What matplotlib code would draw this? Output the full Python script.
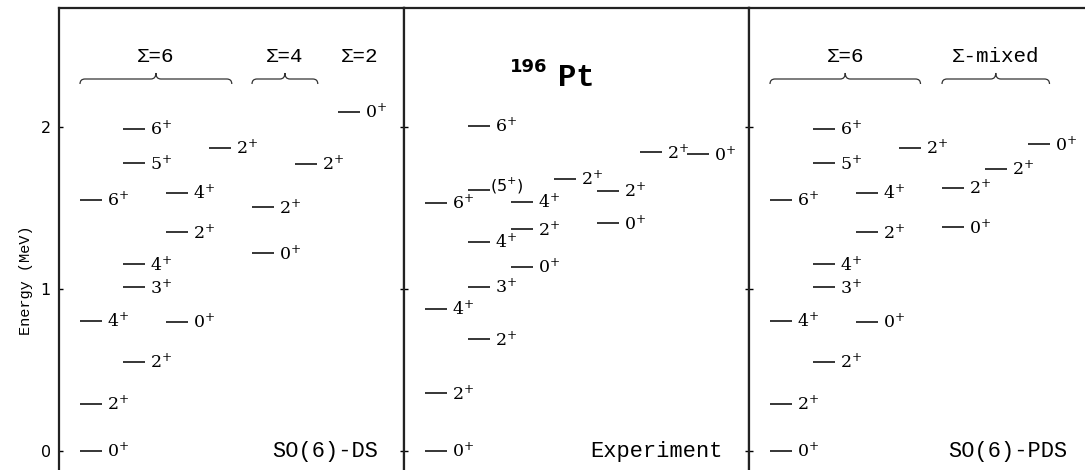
import matplotlib
matplotlib.use("Agg")
import matplotlib.pyplot as plt
from matplotlib.path import Path
from matplotlib.patches import PathPatch
import matplotlib.transforms as mtransforms

plt.rcParams["mathtext.fontset"] = "dejavuserif"

# ---------------- data ----------------
# SO(6) dynamical symmetry (theory)
ds_cols = [0, 0, 0, 0, 1, 1, 1, 1, 1, 2, 2, 2, 3, 4, 4, 5, 6]
ds_energy = [0.0, 0.288, 0.802, 1.548, 0.549, 1.009, 1.151, 1.774, 1.986,
             0.796, 1.348, 1.593, 1.870, 1.218, 1.502, 1.770, 2.093]
ds_spin = ["0", "2", "4", "6", "2", "3", "4", "5", "6",
           "0", "2", "4", "2", "0", "2", "2", "0"]

# Experiment 196Pt
exp_cols = [0, 0, 0, 0, 1, 1, 1, 1, 1, 2, 2, 2, 3, 4, 4, 5, 6.1]
exp_energy = [0.0, 0.354, 0.875, 1.531, 0.688, 1.012, 1.290, 1.609, 2.006,
              1.136, 1.366, 1.537, 1.677, 1.404, 1.603, 1.842, 1.830]
exp_spin = ["0", "2", "4", "6", "2", "3", "4", "(5)", "6",
            "0", "2", "4", "2", "0", "2", "2", "0"]

# SO(6) partial dynamical symmetry (theory)
pds_cols = [0, 0, 0, 0, 1, 1, 1, 1, 1, 2, 2, 2, 3, 4, 4, 5, 6]
pds_energy = [0.0, 0.288, 0.802, 1.548, 0.549, 1.009, 1.151, 1.774, 1.986,
              0.796, 1.348, 1.593, 1.870, 1.379, 1.623, 1.739, 1.891]
pds_spin = ["0", "2", "4", "6", "2", "3", "4", "5", "6",
            "0", "2", "4", "2", "0", "2", "2", "0"]

panel_names = ["SO(6)-DS", "Experiment", "SO(6)-PDS"]
ds_groups = [("Σ=6", 0.0, 3.53), ("Σ=4", 4.0, 5.53), ("Σ=2", 6.5, None)]
exp_groups = []
pds_groups = [("Σ=6", 0.0, 3.5), ("Σ-mixed", 4.0, 6.5)]
y_ticks = [0, 1, 2]
y_label = "Energy (MeV)"

# ---------------- layout ----------------
W, H = 1085, 470
fig = plt.figure(figsize=(W / 100, H / 100), dpi=100)

px_col = 43.0     # pixels per column
px_mev = 162.0    # pixels per MeV
panel_w = 345
top_px = 8
bot_px = 552
zero_px = 450.7
line_len = 22 / px_col

ylim = ((zero_px - bot_px) / px_mev, (zero_px - top_px) / px_mev)
xlim = (-21 / px_col, (panel_w - 21) / px_col)

mono = "Liberation Mono"

def brace(ax, x0, x1, y):
    rx = 5 / px_col
    d = 5 / px_mev
    h = 6 / px_mev
    xm = 0.5 * (x0 + x1)
    verts = [(x0, y - d), (x0, y), (x0 + rx, y),
             (xm - rx, y), (xm, y), (xm, y + h),
             (xm, y), (xm + rx, y),
             (x1 - rx, y), (x1, y), (x1, y - d)]
    codes = [Path.MOVETO, Path.CURVE3, Path.CURVE3,
             Path.LINETO, Path.CURVE3, Path.CURVE3,
             Path.CURVE3, Path.CURVE3,
             Path.LINETO, Path.CURVE3, Path.CURVE3]
    ax.add_patch(PathPatch(Path(verts, codes), fill=False, lw=0.9,
                           edgecolor="#333333", clip_on=False))

panels = [(ds_cols, ds_energy, ds_spin, ds_groups),
          (exp_cols, exp_energy, exp_spin, exp_groups),
          (pds_cols, pds_energy, pds_spin, pds_groups)]

brace_y = (zero_px - 79) / px_mev
group_text_y = (zero_px - 61.7) / px_mev
name_y = (zero_px - 457.3) / px_mev

axes = []
for i, (cols, energy, spin, groups) in enumerate(panels):
    left_px = 59 + i * panel_w
    ax = fig.add_axes([left_px / W, (H - bot_px) / H, panel_w / W,
                       (bot_px - top_px) / H])
    axes.append(ax)
    ax.set_xlim(*xlim)
    ax.set_ylim(*ylim)
    ax.set_xticks([])
    ax.set_yticks(y_ticks)
    ax.tick_params(axis="y", direction="in", length=3, width=1.0,
                   left=True, right=True, labelleft=(i == 0), pad=6,
                   labelsize=11.5)
    for sp in ax.spines.values():
        sp.set_linewidth(1.6)
        sp.set_color("#222222")

    for c, e, s in zip(cols, energy, spin):
        ax.hlines(e, c, c + line_len, color="black", lw=1.1)
        if s.startswith("("):
            ax.annotate("(" + s[1:-1] + "$^{+}$)", xy=(c + line_len, e),
                        xytext=(0, 0), textcoords="offset points",
                        ha="left", va="baseline",
                        fontsize=11.5, family="DejaVu Sans")
        else:
            ax.annotate("$" + s + "^{+}$", xy=(c + line_len, e),
                        xytext=(3.6, -4.3), textcoords="offset points",
                        ha="left", va="baseline", fontsize=12.5)

    for name, x0, x1 in groups:
        if x1 is None:
            xc = x0
        else:
            xc = 0.5 * (x0 + x1)
            brace(ax, x0, x1, brace_y)
        ax.text(xc, group_text_y, name, ha="center", va="baseline",
                family=mono, fontsize=15)

    trans = mtransforms.blended_transform_factory(ax.transAxes, ax.transData)
    ax.text(0.924, name_y, panel_names[i], transform=trans, ha="right",
            va="baseline", family=mono, fontsize=15.8)

# 196Pt title in middle panel
ax = axes[1]
trans = mtransforms.blended_transform_factory(ax.transAxes, ax.transData)
ax.text((510 - 404) / panel_w, (zero_px - 71.7) / px_mev, "196", transform=trans,
        ha="left", va="baseline", family="DejaVu Sans", fontweight="bold",
        fontsize=13)
ax.text((558 - 404) / panel_w, (zero_px - 86) / px_mev, "Pt", transform=trans,
        ha="left", va="baseline", family=mono, fontweight="bold", fontsize=22)

axes[0].set_ylabel(y_label, family=mono, fontsize=11)
axes[0].yaxis.set_label_coords((33 - 59) / panel_w, 0.5)

fig.savefig("out.png", dpi=100)
